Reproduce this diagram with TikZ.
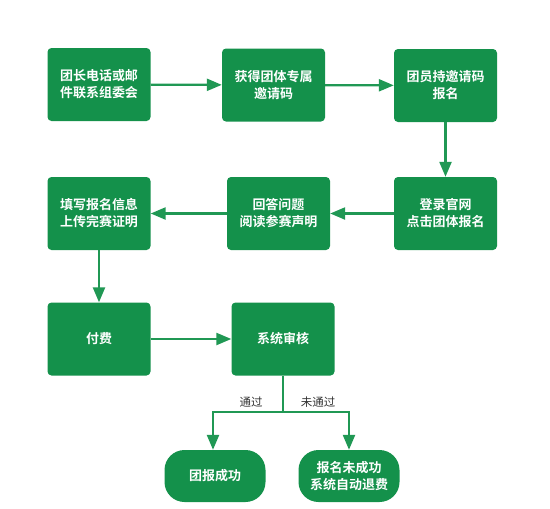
\documentclass[tikz,border=0pt]{standalone}
\usepackage{fontspec}
\newfontfamily\cjk[BoldFont={Noto Sans CJK SC Bold}]{Noto Sans CJK SC}
\usetikzlibrary{arrows.meta}
\definecolor{boxgreen}{RGB}{20,145,75}
\definecolor{linegreen}{RGB}{32,152,84}
\definecolor{labgray}{RGB}{50,50,50}
\tikzset{
  stepbox/.style={fill=boxgreen, draw=none, rounded corners=4pt, minimum width=103pt, minimum height=73pt,
    text=white, font=\cjk\bfseries\fontsize{13}{17}\selectfont, align=center, inner sep=0pt},
  endbox/.style={fill=boxgreen, draw=none, rounded corners=20pt, minimum width=101pt, minimum height=52pt,
    text=white, font=\cjk\bfseries\fontsize{13}{17}\selectfont, align=center, inner sep=0pt},
  flow/.style={draw=linegreen, line width=2.3pt, -{Triangle[length=15pt,width=12pt]}},
  lab/.style={text=labgray, font=\cjk\fontsize{11.5}{13}\selectfont, inner sep=1pt}
}
\begin{document}
\begin{tikzpicture}[x=1pt,y=-1pt]
\useasboundingbox (0,0) rectangle (550,509);
\node[stepbox] (b1) at (99,84.5) {团长电话或邮\\件联系组委会};
\node[stepbox] (b2) at (273.5,85) {获得团体专属\\邀请码};
\node[stepbox] (b3) at (445.5,85.5) {团员持邀请码\\报名};
\node[stepbox] (b4) at (445.5,213.5) {登录官网\\点击团体报名};
\node[stepbox] (b5) at (278.5,213.5) {回答问题\\阅读参赛声明};
\node[stepbox] (b6) at (99,213.5) {填写报名信息\\上传完赛证明};
\node[stepbox] (b7) at (99,339) {付费};
\node[stepbox] (b8) at (283,339) {系统审核};
\node[endbox] (e1) at (215,476) {团报成功};
\node[endbox] (e2) at (349,476) {报名未成功\\系统自动退费};
\coordinate (split) at (283,412);
\coordinate (sl) at (213,412);
\coordinate (sr) at (349,412);
\draw[flow] (b1) -- (b2);
\draw[flow] (b2) -- (b3);
\draw[flow] (b3) -- (b4);
\draw[flow] (b4) -- (b5);
\draw[flow] (b5) -- (b6);
\draw[flow] (b6) -- (b7);
\draw[flow] (b7) -- (b8);
\draw[draw=linegreen, line width=2.3pt] (b8.south) -- (split);
\draw[flow] (split) -- (sl) -- (sl |- e1.north);
\draw[flow] (split) -- (sr) -- (e2.north);
\node[lab, anchor=south] (l1) at (251,409) {通过};
\node[lab, anchor=south] (l2) at (318,409) {未通过};
\end{tikzpicture}
\end{document}
